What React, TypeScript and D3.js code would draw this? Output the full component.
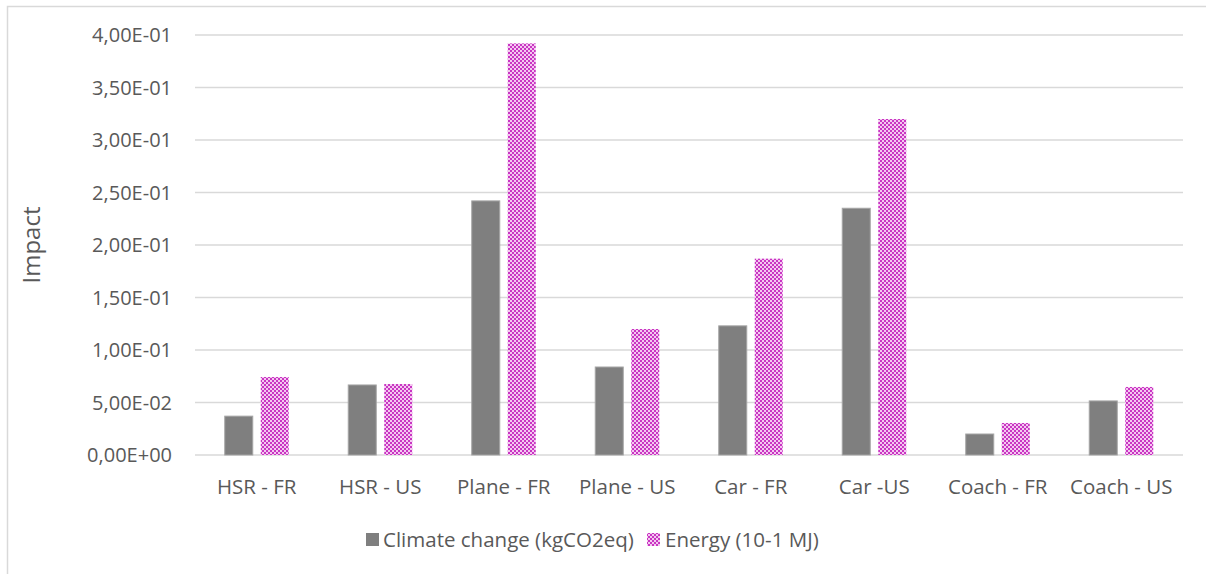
import * as d3 from "d3"

const categories = ["HSR - FR", "HSR - US", "Plane - FR", "Plane - US", "Car - FR", "Car -US", "Coach - FR", "Coach - US"]
const climate = [0.037, 0.0667, 0.242, 0.0838, 0.123, 0.235, 0.02, 0.0515]
const energy = [0.0743, 0.0676, 0.392, 0.12, 0.187, 0.32, 0.0305, 0.0648]
const yTicks = [0, 0.05, 0.1, 0.15, 0.2, 0.25, 0.3, 0.35, 0.4]
const seriesNames = ["Climate change (kgCO2eq)", "Energy (10-1 MJ)"]

const W = 1206
const H = 574
const margin = {top: 35, right: 23, bottom: 119, left: 195}
const font = "'Open Sans', sans-serif"

function fmt(v: number) {
  if (v === 0) return "0,00E+00"
  const e = Math.floor(Math.log10(v) + 1e-9)
  const m = v / Math.pow(10, e)
  const sign = e < 0 ? "-" : "+"
  return m.toFixed(2).replace(".", ",") + "E" + sign + String(Math.abs(e)).padStart(2, "0")
}

export default function App() {
  const x = d3.scaleBand().domain(categories).range([margin.left, W - margin.right])
  const y = d3.scaleLinear().domain([0, 0.4]).range([H - margin.bottom, margin.top])
  const barW = 28
  const gap = 8

  return (
    <svg width={W} height={H} style={{position: "absolute", left: 0, top: 0, background: "#fff"}}>
      <defs>
        <pattern id="checker" patternUnits="userSpaceOnUse" width={4} height={4}>
          <rect width={4} height={4} fill="#f4c8f0" />
          <rect x={0} y={0} width={2} height={2} fill="#c935c3" />
          <rect x={2} y={2} width={2} height={2} fill="#c935c3" />
        </pattern>
      </defs>
      <rect x={7.5} y={6.5} width={W + 10} height={H + 10} fill="none" stroke="#d9d9d9" strokeWidth={1.5} />
      {yTicks.map((t) => (
        <g key={t}>
          <line x1={margin.left} x2={W - margin.right} y1={y(t)} y2={y(t)} stroke="#d9d9d9" strokeWidth={1.5} />
          <text x={172} y={y(t)} dy="0.35em" textAnchor="end" fontFamily={font} fontSize={20} fill="#595959">
            {fmt(t)}
          </text>
        </g>
      ))}
      {categories.map((c, i) => {
        const cx = x(c)! + x.bandwidth() / 2
        return (
          <g key={c}>
            <rect
              x={cx - gap / 2 - barW}
              y={y(climate[i])}
              width={barW}
              height={y(0) - y(climate[i])}
              fill="#7f7f7f"
              stroke="#a5a5a5"
              strokeWidth={1}
            />
            <rect
              x={cx + gap / 2}
              y={y(energy[i])}
              width={barW}
              height={y(0) - y(energy[i])}
              fill="url(#checker)"
            />
            <text x={cx} y={494} textAnchor="middle" fontFamily={font} fontSize={20.5} fill="#595959">
              {c}
            </text>
          </g>
        )
      })}
      <text
        transform={`translate(40, ${(y(0) + y(0.4)) / 2}) rotate(-90)`}
        textAnchor="middle"
        fontFamily={font}
        fontSize={24}
        fill="#595959"
      >
        Impact
      </text>
      <g fontFamily={font} fontSize={20.5} fill="#595959">
        <rect x={366} y={533} width={13} height={13} fill="#7f7f7f" />
        <text x={383} y={547}>{seriesNames[0]}</text>
        <rect x={647} y={533} width={13} height={13} fill="url(#checker)" />
        <text x={665} y={547}>{seriesNames[1]}</text>
      </g>
    </svg>
  )
}
